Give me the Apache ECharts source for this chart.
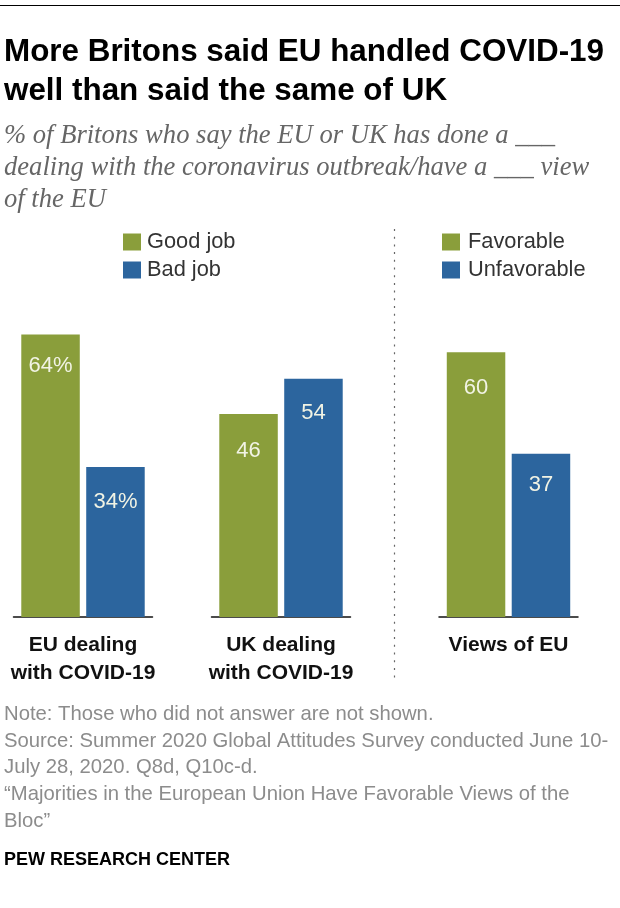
<!DOCTYPE html>
<html>
  <head>
    <meta charset="utf-8">
    <title>More Britons said EU handled COVID-19 well</title>
    <script src="https://cdn.jsdelivr.net/npm/echarts@6/dist/echarts.min.js"></script>
    <style>
      html, body { margin: 0; padding: 0; background: #fff; }
    </style>
  </head>
  <body>
    <div id="main" style="width:620px;height:908px;"></div>
    <script>
var panels = ['EU dealing\nwith COVID-19', 'UK dealing\nwith COVID-19', 'Views of EU'];
var goodNames = ['Good job', 'Good job', 'Favorable'];
var badNames = ['Bad job', 'Bad job', 'Unfavorable'];
var goodValues = [64, 46, 60];
var badValues = [34, 54, 37];
var percentPanels = [true, false, false];

var titleLines = 'More Britons said EU handled COVID-19\nwell than said the same of UK';
var subtitleLines = '% of Britons who say the EU or UK has done a ___\ndealing with the coronavirus outbreak/have a ___ view\nof the EU';
var noteLines = 'Note: Those who did not answer are not shown.\nSource: Summer 2020 Global Attitudes Survey conducted June 10-\nJuly 28, 2020. Q8d, Q10c-d.\n\u201CMajorities in the European Union Have Favorable Views of the\nBloc\u201D';
var creditLine = 'PEW RESEARCH CENTER';

var GREEN = '#8a9e3b';
var BLUE = '#2c659e';
var gridLefts = [13.5, 211.5, 439];
var goodLabelGaps = [20, 26, 25];
var badLabelGaps = [24, 23, 20];
var sans = '"Liberation Sans", sans-serif';

var myChart = echarts.init(document.getElementById('main'));

var grids = [], xAxes = [], yAxes = [], series = [];

function barLabel(i, gap) {
  return {
    show: true,
    position: 'insideTop',
    distance: gap,
    color: '#f1f3e4',
    fontFamily: sans,
    fontSize: 22,
    formatter: function (p) {
      return p.value + (percentPanels[i] ? '%' : '');
    }
  };
}

panels.forEach(function (name, i) {
  // 每个面板一个 grid
  grids.push({ left: gridLefts[i], width: 139, top: 308, height: 309 });
  xAxes.push({
    type: 'category',
    gridIndex: i,
    data: [name],
    axisTick: { show: false },
    axisLine: { lineStyle: { color: '#111', width: 1.5 } },
    axisLabel: {
      color: '#111',
      fontFamily: sans,
      fontWeight: 'bold',
      fontSize: 21,
      lineHeight: 28,
      margin: 14,
      interval: 0
    }
  });
  yAxes.push({ type: 'value', gridIndex: i, min: 0, max: 70, show: false });

  series.push({
    name: goodNames[i],
    type: 'bar',
    xAxisIndex: i,
    yAxisIndex: i,
    barWidth: 58.5,
    barGap: '11%',
    itemStyle: { color: GREEN },
    label: barLabel(i, goodLabelGaps[i]),
    silent: true,
    data: [goodValues[i]]
  });
  series.push({
    name: badNames[i],
    type: 'bar',
    xAxisIndex: i,
    yAxisIndex: i,
    barWidth: 58.5,
    barGap: '11%',
    itemStyle: { color: BLUE },
    label: barLabel(i, badLabelGaps[i]),
    silent: true,
    data: [badValues[i]]
  });
});

function legendAt(left, textPad, names) {
  return {
    orient: 'vertical',
    left: left,
    top: 231,
    padding: 0,
    itemWidth: 18,
    itemHeight: 17,
    itemGap: 6,
    icon: 'rect',
    selectedMode: false,
    textStyle: { color: '#333', fontFamily: sans, fontSize: 21.8, padding: [0, 0, 0, textPad] },
    data: names
  };
}

myChart.setOption({
  animation: false,
  backgroundColor: '#fff',
  title: [
    {
      text: titleLines, left: 4, top: 33, padding: 0,
      textStyle: { color: '#000', fontFamily: sans, fontWeight: 'bold', fontSize: 31.4, lineHeight: 39 }
    },
    {
      text: subtitleLines, left: 4, top: 120, padding: 0,
      textStyle: { color: '#666', fontFamily: '"Liberation Serif", serif', fontStyle: 'italic', fontWeight: 'normal', fontSize: 26.6, lineHeight: 32 }
    },
    {
      text: noteLines, left: 4, top: 701, padding: 0,
      textStyle: { color: '#8c8c8c', fontFamily: sans, fontWeight: 'normal', fontSize: 20.3, lineHeight: 26.7 }
    },
    {
      text: creditLine, left: 4, top: 851, padding: 0,
      textStyle: { color: '#000', fontFamily: sans, fontWeight: 'bold', fontSize: 18 }
    }
  ],
  legend: [
    legendAt(123, 1, ['Good job', 'Bad job']),
    legendAt(442, 3, ['Favorable', 'Unfavorable'])
  ],
  grid: grids,
  xAxis: xAxes,
  yAxis: yAxes,
  series: series,
  graphic: [
    {
      type: 'line',
      shape: { x1: 394.5, y1: 229, x2: 394.5, y2: 681 },
      style: { stroke: '#666', lineWidth: 1.2, lineDash: [2, 5.7] }
    },
    {
      type: 'line',
      shape: { x1: 0, y1: 5.5, x2: 620, y2: 5.5 },
      style: { stroke: '#000', lineWidth: 1 }
    }
  ]
});
    </script>
  </body>
</html>
